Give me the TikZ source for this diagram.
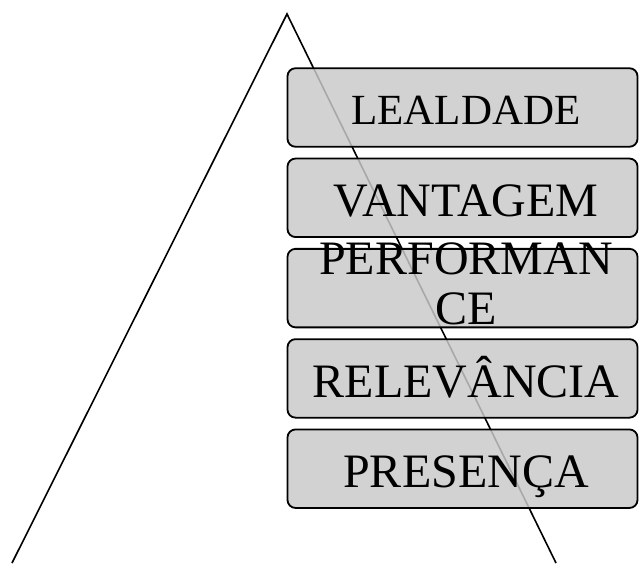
\documentclass[tikz,border=0pt]{standalone}
\usepackage{fontspec}
\setmainfont{Liberation Serif}
\usetikzlibrary{positioning}

\begin{document}
\begin{tikzpicture}[x=1pt,y=-1pt,
    lvlbox/.style={draw=black,line width=1.8pt,rounded corners=8pt,fill=black!21,fill opacity=0.84,
      minimum width=350pt,minimum height=78.5pt,inner sep=0pt},
    lvltext/.style={inner sep=0pt,text height=32pt,text depth=0pt,align=center,
      font=\fontsize{48}{50}\selectfont}]
  \useasboundingbox (0,0) rectangle (639,563);
  % the pyramid
  \coordinate (apex) at (287,14);
  \coordinate (baseL) at (12,563);
  \coordinate (baseR) at (556,563);
  \draw [line width=1.6pt] (baseL) -- (apex) -- (baseR);
  % the levels
  \node [lvlbox] (b1) at (462.5,107.5) {};
  \node [lvlbox, below=10pt of b1] (b2) {};
  \node [lvlbox, below=10pt of b2] (b3) {};
  \node [lvlbox, below=10pt of b3] (b4) {};
  \node [lvlbox, below=10pt of b4] (b5) {};
  \node [lvltext, text height=28.5pt, font=\fontsize{43}{50}\selectfont] (t1) at ([shift={(3.5,3)}]b1.center) {LEALDADE};
  \node [lvltext] (t2) at ([shift={(3.5,3)}]b2.center) {VANTAGEM};
  \node [lvltext, text height={}] (t3) at ([shift={(3.5,-4)}]b3.center) {PERFORMAN\\CE};
  \node [lvltext] (t4) at ([shift={(3.5,3)}]b4.center) {RELEVÂNCIA};
  \node [lvltext] (t5) at ([shift={(3.5,3)}]b5.center) {PRESENÇA};
\end{tikzpicture}
\end{document}
